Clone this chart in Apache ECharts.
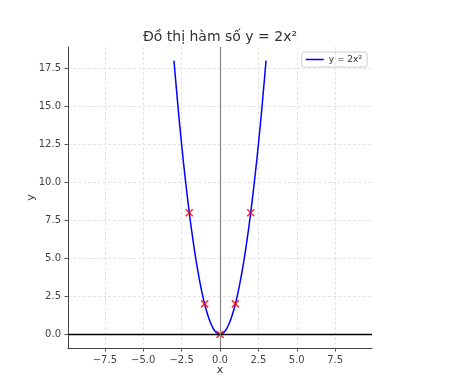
<!DOCTYPE html>
<html>
<head>
<meta charset="utf-8">
<script src="https://cdn.jsdelivr.net/npm/echarts@6/dist/echarts.min.js"></script>
<style>
  html, body { margin: 0; padding: 0; background: #fff; }
  #chart { width: 466px; height: 377px; }
</style>
</head>
<body>
<div id="chart"></div>
<script>
// đường cong y = 2x^2
const curveX = [-3, -2.75, -2.5, -2.25, -2, -1.75, -1.5, -1.25, -1, -0.75, -0.5, -0.25, 0,
  0.25, 0.5, 0.75, 1, 1.25, 1.5, 1.75, 2, 2.25, 2.5, 2.75, 3];
const curveY = [18, 15.125, 12.5, 10.125, 8, 6.125, 4.5, 3.125, 2, 1.125, 0.5, 0.125, 0,
  0.125, 0.5, 1.125, 2, 3.125, 4.5, 6.125, 8, 10.125, 12.5, 15.125, 18];
// các điểm đánh dấu màu đỏ
const pointX = [-2, -1, 0, 1, 2];
const pointY = [8, 2, 0, 2, 8];
// nhãn trục
const xTicks = [-7.5, -5, -2.5, 0, 2.5, 5, 7.5];
const yTicks = [0, 2.5, 5, 7.5, 10, 12.5, 15, 17.5];
const seriesName = "y = 2x²";

const fmt = (v) => (v < 0 ? "\u2212" + Math.abs(v).toFixed(1) : v.toFixed(1));
const font = "DejaVu Sans";
const crossPath = "path://M0,0L10,10M10,0L0,10";

const chart = echarts.init(document.getElementById("chart"), null, { renderer: "canvas" });

chart.setOption({
  animation: false,
  textStyle: { fontFamily: font },
  title: {
    text: "Đồ thị hàm số y = 2x²",
    left: 220,
    textAlign: "center",
    top: 30,
    padding: 0,
    textStyle: { fontFamily: font, fontSize: 14, fontWeight: "normal", color: "#333" },
  },
  legend: {
    data: [seriesName],
    right: 99,
    top: 52,
    padding: [3, 5, 3, 4],
    borderColor: "#ccc",
    borderWidth: 1,
    borderRadius: 2,
    icon: "rect",
    itemWidth: 18,
    itemHeight: 1.5,
    itemGap: 6,
    textStyle: { fontFamily: font, fontSize: 9, color: "#333" },
  },
  grid: { left: 68, right: 94, top: 47, bottom: 29, outerBoundsMode: "none", containLabel: false },
  xAxis: {
    type: "value",
    min: -9.9,
    max: 9.9,
    name: "x",
    nameLocation: "middle",
    nameGap: 17,
    nameMoveOverlap: false,
    nameTextStyle: { fontFamily: font, fontSize: 11, color: "#333" },
    axisLine: { show: true, onZero: false, lineStyle: { color: "#444", width: 1 } },
    axisTick: { show: true, customValues: xTicks, length: 3.5, lineStyle: { color: "#555" } },
    axisLabel: { customValues: xTicks, formatter: fmt, fontSize: 10, color: "#444", margin: 7 },
    splitLine: { show: true, lineStyle: { color: "#ddd", type: [3, 2], width: 0.8 } },
  },
  yAxis: {
    type: "value",
    min: -0.9,
    max: 18.9,
    name: "y",
    nameLocation: "middle",
    nameGap: 31,
    nameMoveOverlap: false,
    nameTextStyle: { fontFamily: font, fontSize: 11, color: "#333" },
    axisLine: { show: true, onZero: false, lineStyle: { color: "#444", width: 1 } },
    axisTick: { show: true, customValues: yTicks, length: 3.5, lineStyle: { color: "#555" } },
    axisLabel: { customValues: yTicks, formatter: fmt, fontSize: 10, color: "#444", margin: 7 },
    splitLine: { show: true, lineStyle: { color: "#ddd", type: [3, 2], width: 0.8 } },
  },
  series: [
    {
      name: "axes",
      type: "line",
      data: [],
      silent: true,
      markLine: {
        symbol: "none",
        silent: true,
        label: { show: false },
        data: [
          { yAxis: 0, lineStyle: { color: "#000", width: 1.4, type: "solid" } },
          { xAxis: 0, lineStyle: { color: "#888", width: 1.2, type: "solid" } },
        ],
      },
    },
    {
      name: seriesName,
      type: "line",
      smooth: true,
      symbol: "none",
      z: 3,
      data: curveX.map((x, i) => [x, curveY[i]]),
      lineStyle: { color: "#0000ff", width: 1.5 },
      itemStyle: { color: "#0000ff" },
    },
    {
      name: "points",
      type: "scatter",
      symbol: crossPath,
      symbolSize: 7,
      z: 4,
      data: pointX.map((x, i) => [x, pointY[i]]),
      itemStyle: { color: "none", borderColor: "#ff0000", borderWidth: 1.6 },
    },
  ],
});
</script>
</body>
</html>
